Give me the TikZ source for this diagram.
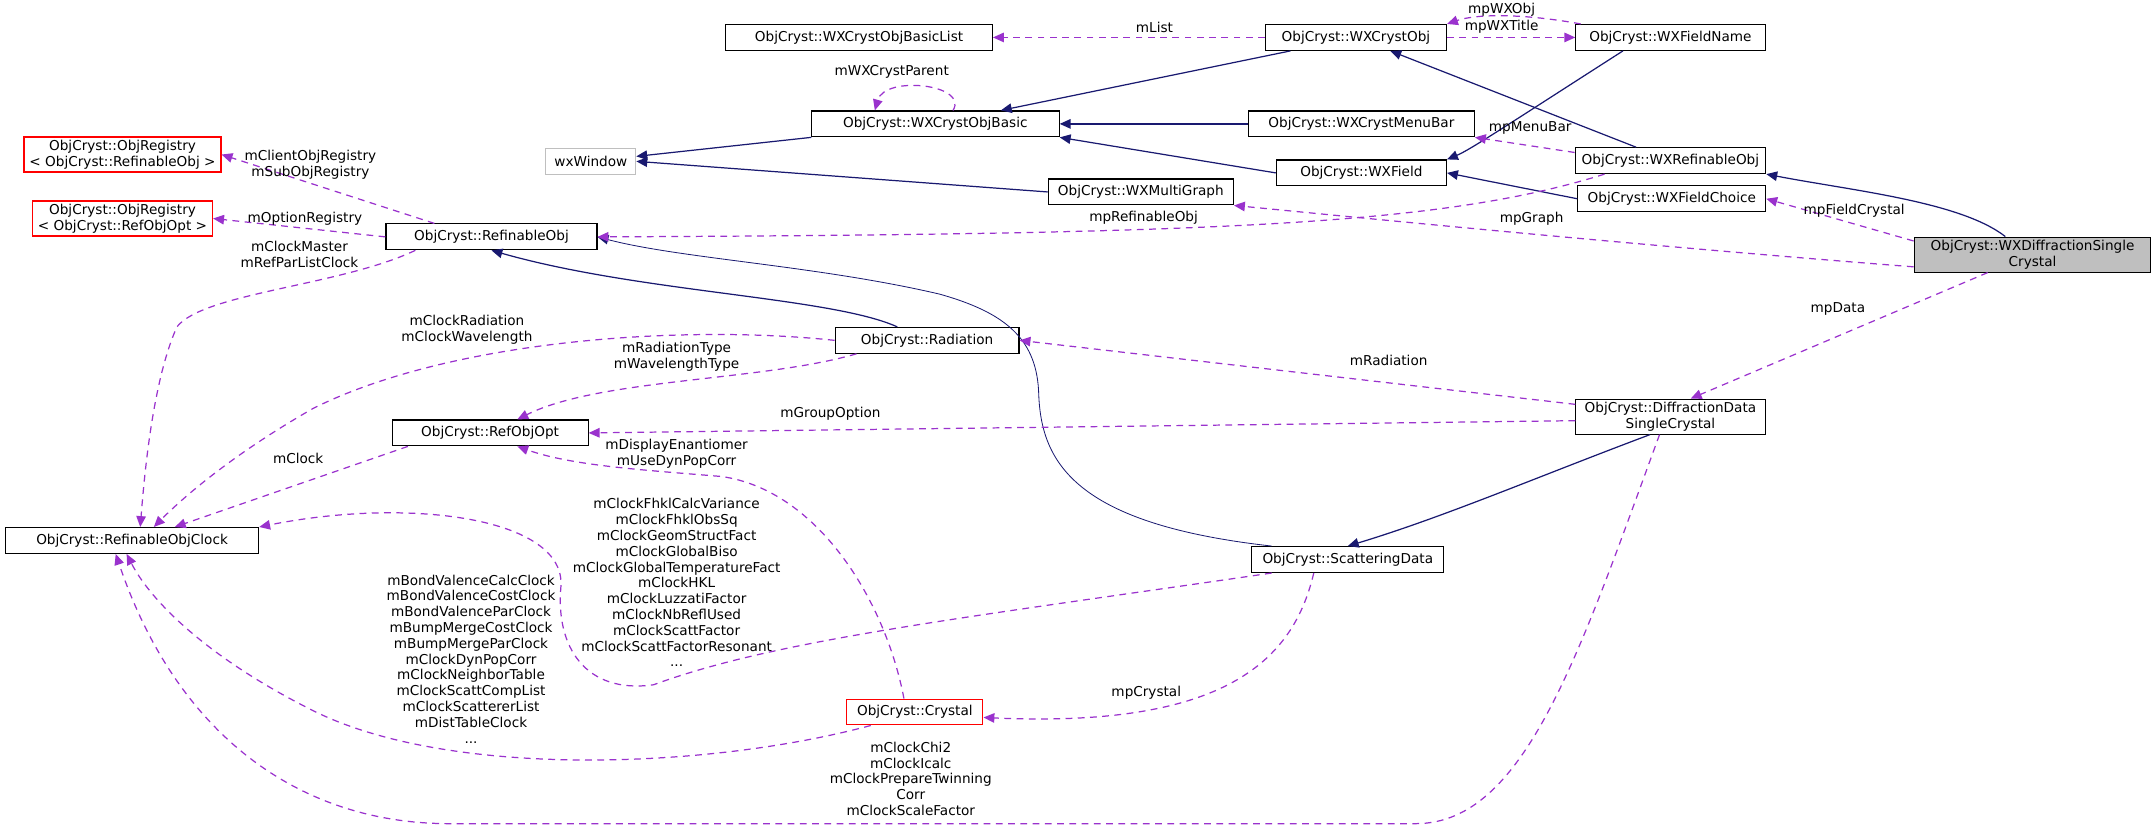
\documentclass[tikz,border=0pt]{standalone}
\usepackage{fontspec}
\setmainfont{DejaVu Sans}
\usetikzlibrary{arrows.meta,calc}
\definecolor{navy}{RGB}{25,25,112}
\definecolor{purp}{RGB}{154,50,205}
\definecolor{grayb}{RGB}{191,191,191}
\tikzset{
 cls/.style={draw=black,line width=0.8pt,fill=white,font=\fontsize{10}{12}\selectfont,inner sep=2pt,minimum height=19pt,align=center},
 redcls/.style={cls,draw=red,inner xsep=4pt},
 inh/.style={navy,line width=0.9pt,-{Triangle[length=8pt,width=7pt]}},
 use/.style={purp,line width=0.9pt,dash pattern=on 5pt off 4pt,-{Triangle[length=8pt,width=7pt]}},
 lab/.style={font=\fontsize{10}{11.6}\selectfont,align=center,inner sep=0pt}
}
\begin{document}
\begin{tikzpicture}[x=1pt,y=-1pt]
\useasboundingbox (0,0) rectangle (1580,608);
% nodes
\node[cls,minimum width=196pt] (bl) at (631,27.5) {ObjCryst::WXCrystObjBasicList};
\node[cls,minimum width=133pt] (wxo) at (996,27.5) {ObjCryst::WXCrystObj};
\node[cls,minimum width=139pt] (fn) at (1227,27.5) {ObjCryst::WXFieldName};
\node[cls,minimum width=182pt] (bas) at (687,91) {ObjCryst::WXCrystObjBasic};
\node[cls,minimum width=166pt] (mb) at (1000,91) {ObjCryst::WXCrystMenuBar};
\node[cls,minimum width=140pt] (wro) at (1227,118) {ObjCryst::WXRefinableObj};
\node[cls,draw=grayb,minimum width=66pt] (wxw) at (434,118.5) {wxWindow};
\node[cls,minimum width=125pt] (fld) at (1000,127) {ObjCryst::WXField};
\node[cls,minimum width=136pt] (mg) at (838,141) {ObjCryst::WXMultiGraph};
\node[cls,minimum width=138pt] (fc) at (1228,146) {ObjCryst::WXFieldChoice};
\node[redcls] (or1) at (90,113.5) {ObjCryst::ObjRegistry\\{\textless} ObjCryst::RefinableObj {\textgreater}};
\node[redcls] (or2) at (90,160.5) {ObjCryst::ObjRegistry\\{\textless} ObjCryst::RefObjOpt {\textgreater}};
\node[cls,minimum width=155pt] (ro) at (361,174) {ObjCryst::RefinableObj};
\node[cls,fill=grayb,minimum width=174pt] (dsc) at (1493,187) {ObjCryst::WXDiffractionSingle\\Crystal};
\node[cls,minimum width=135pt] (rad) at (681,250) {ObjCryst::Radiation};
\node[cls,minimum width=144pt] (roo) at (360,318) {ObjCryst::RefObjOpt};
\node[cls,minimum width=139pt] (dd) at (1227,306) {ObjCryst::DiffractionData\\SingleCrystal};
\node[cls,minimum width=186pt] (clk) at (97,397) {ObjCryst::RefinableObjClock};
\node[cls,minimum width=141pt] (sd) at (990,411) {ObjCryst::ScatteringData};
\node[redcls,minimum width=100pt] (cry) at (672,523) {ObjCryst::Crystal};
% inheritance
\draw[inh] (bas) -- (wxw);
\draw[inh] (mg.west) -- (wxw.east);
\draw[inh] (wxo) -- (bas);
\draw[inh] (mb) -- (bas);
\draw[inh] (fld.west) -- (bas.south east);
\draw[inh] ($(fn.south west)+(35,0)$) .. controls (1110,90) and (1080,110) .. (fld.north east);
\draw[inh] (wro) -- (wxo);
\draw[inh] (fc.west) -- (fld.east);
\draw[inh] ($(dsc.north)+(-20,0)$) .. controls (1440,148) and (1360,140) .. (wro.south east);
\draw[inh] ($(rad.north west)+(46,0)$) .. controls (610,218) and (470,215) .. (ro.south);
\draw[inh,line width=0.6pt] ($(sd.north west)+(15,0)$) .. controls (790,385) and (765,340) .. (763,290) .. controls (762,250) and (740,230) .. (690,216) .. controls (600,195) and (500,190) .. (ro.east);
\draw[inh] ($(dd.south)+(-15,0)$) .. controls (1130,350) and (1060,380) .. (sd.north);
% usage
\draw[use] (wxo) -- (bl);
\node[lab] (l1) at (848,20) {mList};
\draw[use] ($(bas.north)+(13,0)$) .. controls (712,62) and (650,55) .. ($(bas.north west)+(47,0)$);
\node[lab] (l2) at (655,53) {mWXCrystParent};
\draw[use] ($(fn.north west)+(4,0)$) .. controls (1120,10) and (1085,10) .. (wxo.north east);
\node[lab] (l3) at (1103,7) {mpWXObj};
\draw[use] (wxo) -- (fn);
\node[lab] (l4) at (1103,20) {mpWXTitle};
\draw[use] ($(wro.west)+(0,-6)$) -- (mb.south east);
\node[lab] (l5) at (1124,94) {mpMenuBar};
\draw[use] ($(wro.south west)+(22,0)$) .. controls (1060,165) and (900,172) .. (ro.east);
\node[lab] (l6) at (840,160) {mpRefinableObj};
\draw[use] ($(dsc.west)+(0,9)$) .. controls (1200,180) and (1000,160) .. (mg.south east);
\node[lab] (l7) at (1125,161) {mpGraph};
\draw[use] ($(dsc.west)+(0,-10)$) -- (fc.east);
\node[lab] (l8) at (1362,155) {mpFieldCrystal};
\draw[use] ($(dsc.south)+(-33,0)$) -- ($(dd.north east)+(-55,0)$);
\node[lab] (l9) at (1350,227) {mpData};
\draw[use] ($(ro.north west)+(36,0)$) -- (or1.east);
\node[lab] (l10) at (228,121) {mClientObjRegistry\\mSubObjRegistry};
\draw[use] (ro.west) -- (or2.east);
\node[lab] (l11) at (224,161) {mOptionRegistry};
\draw[use] ($(ro.south west)+(22,0)$) .. controls (250,210) and (150,215) .. (130,240) .. controls (112,280) and (106,350) .. ($(clk.north)+(6,0)$);
\node[lab] (l12) at (220,187) {mClockMaster\\mRefParListClock};
\draw[use] (rad.west) .. controls (500,238) and (330,250) .. (230,300) .. controls (160,340) and (125,375) .. ($(clk.north)+(16,0)$);
\node[lab] (l13) at (343,242) {mClockRadiation\\mClockWavelength};
\draw[use] ($(rad.south west)+(16,0)$) .. controls (560,280) and (440,278) .. ($(roo.north)+(20,0)$);
\node[lab] (l14) at (497,262) {mRadiationType\\mWavelengthType};
\draw[use] ($(dd.west)+(0,-9)$) -- (rad.east);
\node[lab] (l15) at (1020,265) {mRadiation};
\draw[use] ($(dd.west)+(0,3)$) -- (roo.east);
\node[lab] (l16) at (610,304) {mGroupOption};
\draw[use] ($(roo.south west)+(12,0)$) -- ($(clk.north east)+(-62,0)$);
\node[lab] (l17) at (219,337) {mClock};
\draw[use] ($(cry.north)+(-8,0)$) .. controls (650,440) and (600,360) .. (530,350) .. controls (470,345) and (420,342) .. ($(roo.south)+(20,0)$);
\node[lab] (l18) at (497,333) {mDisplayEnantiomer\\mUseDynPopCorr};
\draw[use] ($(sd.south west)+(15,0)$) .. controls (700,455) and (570,470) .. (480,503) .. controls (430,510) and (408,475) .. (412,431) .. controls (416,380) and (300,365) .. (clk.north east);
\node[lab] (l19) at (497,428) {mClockFhklCalcVariance\\mClockFhklObsSq\\mClockGeomStructFact\\mClockGlobalBiso\\mClockGlobalTemperatureFact\\mClockHKL\\mClockLuzzatiFactor\\mClockNbReflUsed\\mClockScattFactor\\mClockScattFactorResonant\\...};
\draw[use] ($(cry.south west)+(18,0)$) .. controls (520,565) and (330,572) .. (230,522) .. controls (150,482) and (110,440) .. ($(clk.south)+(-4,0)$);
\node[lab] (l20) at (346,484) {mBondValenceCalcClock\\mBondValenceCostClock\\mBondValenceParClock\\mBumpMergeCostClock\\mBumpMergeParClock\\mClockDynPopCorr\\mClockNeighborTable\\mClockScattCompList\\mClockScattererList\\mDistTableClock\\...};
\draw[use] ($(sd.south)+(-25,0)$) .. controls (950,485) and (900,535) .. ($(cry.east)+(0,4)$);
\node[lab] (l21) at (842,509) {mpCrystal};
\draw[use] ($(dd.south)+(-8,0)$) .. controls (1160,480) and (1120,605) .. (1040,605) -- (330,605) .. controls (220,605) and (130,540) .. ($(clk.south)+(-12,0)$);
\node[lab] (l22) at (669,572) {mClockChi2\\mClockIcalc\\mClockPrepareTwinning\\Corr\\mClockScaleFactor};
\end{tikzpicture}
\end{document}
